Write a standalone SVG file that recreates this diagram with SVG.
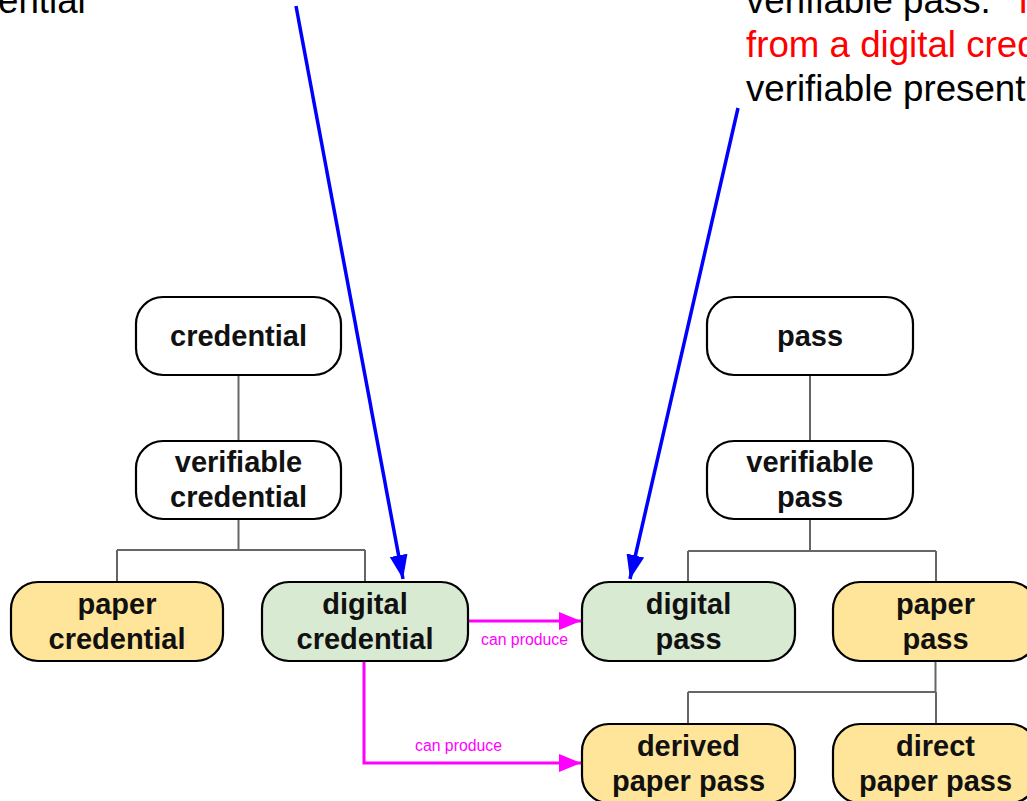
<svg xmlns="http://www.w3.org/2000/svg" width="1027" height="801" viewBox="0 0 1027 801">
  <style>
    .node rect { stroke: #000; stroke-width: 2.2; }
    .plain { fill: #ffffff; }
    .yellow { fill: #ffe599; }
    .green { fill: #d9ead3; }
    .lbl { font-family: "Liberation Sans", Arial, sans-serif; font-weight: bold; font-size: 29px; fill: #111; text-anchor: middle; }
    .tree { stroke: #666; stroke-width: 2; fill: none; }
    .produce { stroke: #ff00ff; stroke-width: 3; fill: none; }
    .plabel { font-family: "Liberation Sans", Arial, sans-serif; font-size: 15.8px; fill: #ff00ff; }
    .note { font-family: "Liberation Sans", Arial, sans-serif; font-size: 36.7px; fill: #000; }
    .red { fill: #ff0000; }
    .blue { stroke: #0000ff; stroke-width: 3.5; fill: none; }
  </style>
  <defs>
    <marker id="magHead" markerUnits="userSpaceOnUse" markerWidth="24" markerHeight="20" refX="22" refY="9" orient="auto">
      <path d="M0,0 L22,9 L0,18 Z" fill="#ff00ff"/>
    </marker>
    <marker id="blueHead" markerUnits="userSpaceOnUse" markerWidth="26" markerHeight="20" refX="24" refY="9" orient="auto">
      <path d="M0,0 L24,9 L0,18 Z" fill="#0000ff"/>
    </marker>
  </defs>

  <rect x="0" y="0" width="1027" height="801" fill="#ffffff"/>

  <g id="notes">
    <text class="note" x="-2" y="13">ential</text>
    <text class="note" x="746" y="13">verifiable pass. <tspan class="red" x="1012">T</tspan></text>
    <text class="note red" x="746" y="57">from a digital cred</text>
    <text class="note" x="746" y="101">verifiable present</text>
  </g>

  <g id="connectors">
    <path class="tree" d="M238.5,375 V441"/>
    <path class="tree" d="M238.5,519 V550 M117,550 H365 M117,550 V582 M365,550 V582"/>
    <path class="tree" d="M810,375 V441"/>
    <path class="tree" d="M810,519 V551 M688,551 H936 M688,551 V582 M936,551 V582"/>
    <path class="tree" d="M935.5,661 V692 M688,692 H936 M688,692 V724 M936,692 V724"/>
    <path class="produce" d="M468,621 H581" marker-end="url(#magHead)"/>
    <path class="produce" d="M364,661 V763 H581" marker-end="url(#magHead)"/>
    <text class="plabel" x="481" y="645">can produce</text>
    <text class="plabel" x="415" y="751">can produce</text>
    <path class="blue" d="M296,6 L403,579" marker-end="url(#blueHead)"/>
    <path class="blue" d="M738,108 L630,579" marker-end="url(#blueHead)"/>
  </g>

  <g id="credential" class="node">
    <rect class="plain" x="136" y="297" width="205" height="78" rx="27"/>
    <text class="lbl" x="238.5" y="346">credential</text>
  </g>
  <g id="verifiable-credential" class="node">
    <rect class="plain" x="136" y="441" width="205" height="78" rx="27"/>
    <text class="lbl" x="238.5" y="472">verifiable</text>
    <text class="lbl" x="238.5" y="507">credential</text>
  </g>
  <g id="paper-credential" class="node">
    <rect class="yellow" x="11" y="582" width="212" height="79" rx="27"/>
    <text class="lbl" x="117" y="614">paper</text>
    <text class="lbl" x="117" y="649">credential</text>
  </g>
  <g id="digital-credential" class="node">
    <rect class="green" x="262" y="582" width="206" height="79" rx="27"/>
    <text class="lbl" x="365" y="614">digital</text>
    <text class="lbl" x="365" y="649">credential</text>
  </g>
  <g id="pass" class="node">
    <rect class="plain" x="707" y="297" width="206" height="78" rx="27"/>
    <text class="lbl" x="810" y="346">pass</text>
  </g>
  <g id="verifiable-pass" class="node">
    <rect class="plain" x="707" y="441" width="206" height="78" rx="27"/>
    <text class="lbl" x="810" y="472">verifiable</text>
    <text class="lbl" x="810" y="507">pass</text>
  </g>
  <g id="digital-pass" class="node">
    <rect class="green" x="582" y="582" width="213" height="79" rx="27"/>
    <text class="lbl" x="688.5" y="614">digital</text>
    <text class="lbl" x="688.5" y="649">pass</text>
  </g>
  <g id="paper-pass" class="node">
    <rect class="yellow" x="833" y="582" width="204" height="79" rx="27"/>
    <text class="lbl" x="935.5" y="614">paper</text>
    <text class="lbl" x="935.5" y="649">pass</text>
  </g>
  <g id="derived-paper-pass" class="node">
    <rect class="yellow" x="582" y="724" width="213" height="79" rx="27"/>
    <text class="lbl" x="688.5" y="756">derived</text>
    <text class="lbl" x="688.5" y="791">paper pass</text>
  </g>
  <g id="direct-paper-pass" class="node">
    <rect class="yellow" x="833" y="724" width="204" height="79" rx="27"/>
    <text class="lbl" x="935.5" y="756">direct</text>
    <text class="lbl" x="935.5" y="791">paper pass</text>
  </g>
</svg>
